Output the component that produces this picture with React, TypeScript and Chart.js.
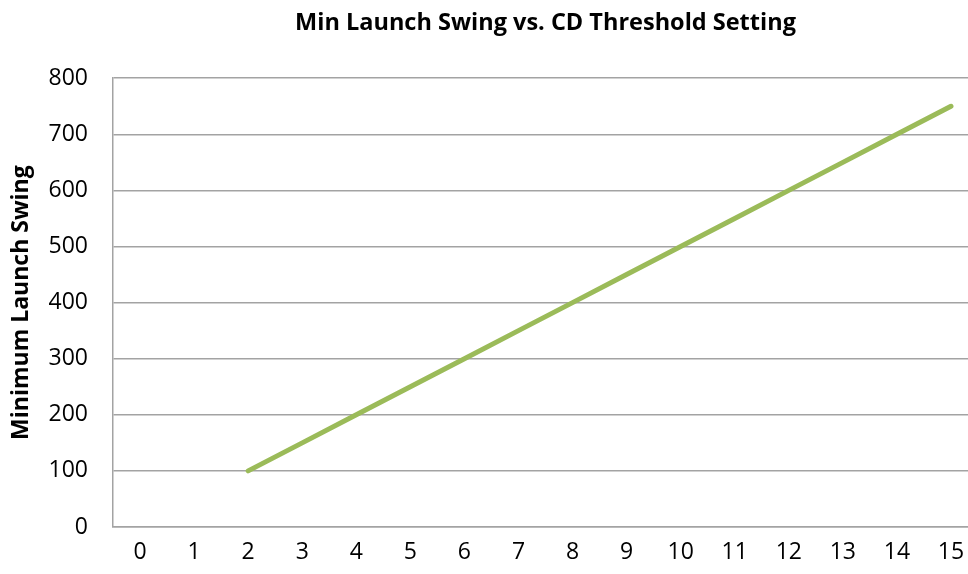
import React, { useEffect, useRef } from "react";
import { Chart, registerables } from "chart.js";

Chart.register(...registerables);

const thresholdSettings = ["0", "1", "2", "3", "4", "5", "6", "7", "8", "9", "10", "11", "12", "13", "14", "15"];
const minLaunchSwing = [null, null, 100, 150, 200, 250, 300, 350, 400, 450, 500, 550, 600, 650, 700, 750];
const yMin = 0;
const yMax = 800;
const yStep = 100;
const chartTitle = "Min Launch Swing vs. CD Threshold Setting";
const yAxisTitle = "Minimum Launch Swing";

const FONT = "'Open Sans', 'DejaVu Sans', sans-serif";
const GRID = "#a3a3a3";

export default function App() {
  const ref = useRef<HTMLCanvasElement | null>(null);

  useEffect(() => {
    if (!ref.current) return;
    const chart = new Chart(ref.current, {
      type: "line",
      data: {
        labels: thresholdSettings,
        datasets: [
          {
            label: "Min Launch Swing",
            data: minLaunchSwing,
            borderColor: "#9bbb59",
            backgroundColor: "#9bbb59",
            borderWidth: 5,
            borderCapStyle: "round",
            pointRadius: 0,
            tension: 0,
            spanGaps: false,
          },
        ],
      },
      options: {
        animation: false,
        responsive: false,
        maintainAspectRatio: false,
        layout: { padding: { left: 0, right: 2, top: 0, bottom: 0 } },
        plugins: {
          legend: { display: false },
          tooltip: { enabled: false },
          title: {
            display: true,
            text: chartTitle,
            fullSize: false,
            color: "#000",
            font: { family: FONT, size: 23.5, weight: "bold" },
            padding: { top: 9, bottom: 41 },
          },
        },
        scales: {
          x: {
            type: "category",
            offset: true,
            grid: { display: false, drawTicks: false },
            border: { display: true, color: GRID, width: 1.5 },
            ticks: {
              color: "#000",
              font: { family: FONT, size: 23 },
              padding: 12,
              maxRotation: 0,
              autoSkip: false,
            },
            afterFit: (s: any) => {
              s.height = 47;
            },
          },
          y: {
            min: yMin,
            max: yMax,
            grid: { color: GRID, lineWidth: 1.5, drawTicks: false },
            border: { display: true, color: GRID, width: 1.5 },
            ticks: {
              stepSize: yStep,
              color: "#000",
              font: { family: FONT, size: 23 },
              padding: 25,
            },
            title: {
              display: true,
              text: yAxisTitle,
              color: "#000",
              font: { family: FONT, size: 23, weight: "bold" },
              padding: { top: 8, bottom: 0 },
            },
            afterFit: (s: any) => {
              s.width = 113;
            },
          },
        },
      },
    });
    return () => chart.destroy();
  }, []);

  return (
    <div style={{ position: "fixed", left: 0, top: 0, width: 968, height: 574, overflow: "hidden", background: "#fff" }}>
      <canvas ref={ref} width={980} height={574} style={{ width: 980, height: 574, display: "block" }} />
    </div>
  );
}
